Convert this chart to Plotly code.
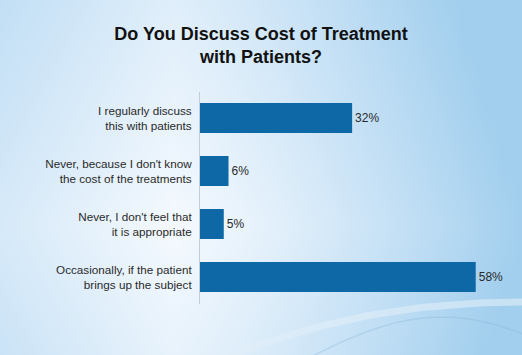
import numpy as np
import plotly.graph_objects as go

# ---- data ----
categories = [
    "I regularly discuss<br>this with patients",
    "Never, because I don't know<br>the cost of the treatments",
    "Never, I don't feel that<br>it is appropriate",
    "Occasionally, if the patient<br>brings up the subject",
]
values = [32, 6, 5, 58]
value_labels = [f"{v}%" for v in values]
title_text = "Do You Discuss Cost of Treatment<br>with Patients?"

W, H = 522, 355

# ---- background gradient (decoration) ----
gx = np.linspace(0, W, 28)
gy = np.linspace(0, H, 20)
X, Y = np.meshgrid(gx, gy)
zh = np.where(X > 170, ((X - 170) / (W - 170)) ** 1.3, (170 - X) / 170 * 0.35)
zv = np.abs((H - Y) - 130) / 225 * 0.25
Z = np.clip(zh + zv, 0, 1)

fig = go.Figure()
fig.add_trace(go.Heatmap(
    x=gx, y=H - gy, z=Z, zsmooth="best", showscale=False, hoverinfo="skip",
    colorscale=[[0, "#f4f9fe"], [0.45, "#cee5f7"], [1, "#a2cfee"]],
    zmin=0, zmax=1, xaxis="x", yaxis="y",
))
# faint decorative swooshes
t = np.linspace(0, 1, 60)
sx1 = 215 + (W + 5 - 215) * t
sy1 = 362 - 60 * (1 - (1 - t) ** 2.2)
fig.add_trace(go.Scatter(x=sx1, y=H - sy1, mode="lines", line=dict(color="rgba(225,238,248,0.6)", width=7),
                         hoverinfo="skip", showlegend=False, xaxis="x", yaxis="y"))
sx2 = 300 + (W + 5 - 300) * t
sy2 = 362 - 45 * np.sin(np.pi * t * 0.8)
fig.add_trace(go.Scatter(x=sx2, y=H - sy2, mode="lines", line=dict(color="rgba(130,180,215,0.3)", width=1.5),
                         hoverinfo="skip", showlegend=False, xaxis="x", yaxis="y"))

# ---- bars ----
fig.add_trace(go.Bar(
    x=values, y=categories, orientation="h",
    marker=dict(color="#0d68a5", line=dict(width=0)),
    text=value_labels, textposition="outside", cliponaxis=False,
    textfont=dict(family="Liberation Sans, Arial", size=12, color="#2a2a2a"),
    xaxis="x2", yaxis="y2", showlegend=False,
))

fig.update_layout(
    width=W, height=H,
    margin=dict(l=0, r=0, t=0, b=0),
    paper_bgcolor="#e6f1fa", plot_bgcolor="rgba(0,0,0,0)",
    bargap=0.434,
    title=dict(text=title_text, x=0.5, xref="container", xanchor="center",
               y=1 - 39.5 / H, yref="container", yanchor="middle",
               font=dict(family="Liberation Sans, Arial", size=18, color="#111111", weight="bold")),
    xaxis=dict(domain=[0, 1], range=[0, W], visible=False, fixedrange=True),
    yaxis=dict(domain=[0, 1], range=[0, H], visible=False, fixedrange=True),
    xaxis2=dict(domain=[200 / W, 509 / W], range=[0, 65], anchor="y2", visible=False),
    yaxis2=dict(domain=[51.5 / H, 263.5 / H], anchor="x2", autorange="reversed",
                showline=True, linecolor="#c5ccd3", linewidth=1, showgrid=False,
                ticks="", ticklabelstandoff=5,
                tickfont=dict(family="Liberation Sans, Arial", size=11.7, color="#2a2a2a")),
)

fig.write_html("out.html", config={"displayModeBar": False},
               post_script="document.body.style.margin='0';")
